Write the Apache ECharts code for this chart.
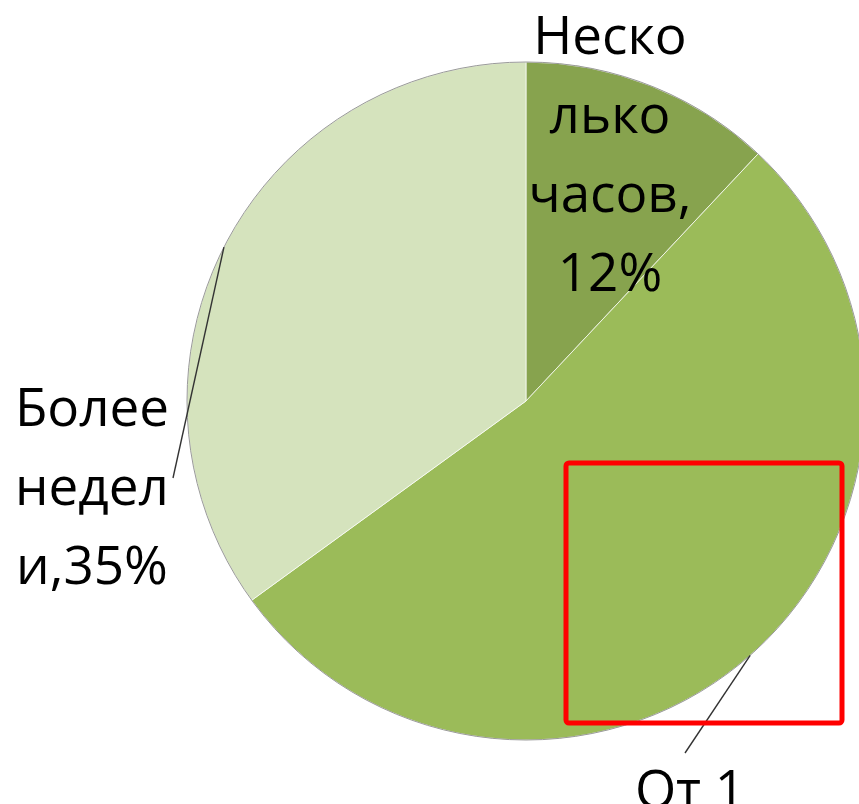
<!DOCTYPE html>
<html>
<head>
<meta charset="utf-8">
<script src="https://cdn.jsdelivr.net/npm/echarts@6/dist/echarts.min.js"></script>
<style>
  html, body { margin: 0; padding: 0; background: #fff; }
  #chart { width: 859px; height: 804px; }
</style>
</head>
<body>
<div id="chart"></div>
<script>
// доли времени
var categories = ['Несколько часов', 'От 1 дня до недели', 'Более недели'];
var labelTexts = ['Неско\nлько\nчасов,\n', 'От 1\nдня до\nнедели,\n', 'Более\nнедел\nи,'];
var shares = [12, 53, 35];
var colors = ['#87a34e', '#9bbb59', '#d5e3bd'];

// где стоят подписи (как в исходнике)
var labelSpots = [
  { x: 610, y: 157, align: 'center', verticalAlign: 'middle', line: null },
  { x: 690, y: 753, align: 'center', verticalAlign: 'top', line: [-5, 0] },
  { x: 92, y: 490, align: 'center', verticalAlign: 'middle', line: [81, -12] }
];

var pieData = categories.map(function (name, i) {
  return { name: name, value: shares[i], itemStyle: { color: colors[i] } };
});

// второй слой: прозрачные секторы, только подписи и выноски поверх
var labelData = categories.map(function (name, i) {
  return { name: name, value: shares[i], labelLine: { show: i !== 0 } };
});

var total = shares.reduce(function (a, b) { return a + b; }, 0);

var chart = echarts.init(document.getElementById('chart'));

var option = {
  backgroundColor: '#ffffff',
  animation: false,
  series: [
    {
      type: 'pie',
      z: 2,
      center: [526, 401],
      radius: 339,
      startAngle: 90,
      clockwise: true,
      silent: true,
      data: pieData,
      itemStyle: {
        borderColor: 'rgba(255,255,255,0.7)',
        borderWidth: 1
      },
      label: { show: false },
      labelLine: { show: false }
    },
    {
      // серый контур круга
      type: 'pie',
      z: 3,
      center: [526, 401],
      radius: 339,
      silent: true,
      data: [{ name: 'all', value: total }],
      itemStyle: { color: 'rgba(0,0,0,0)', borderColor: '#9a9a9a', borderWidth: 1 },
      label: { show: false },
      labelLine: { show: false }
    },
    {
      type: 'pie',
      z: 5,
      center: [526, 401],
      radius: 339,
      startAngle: 90,
      clockwise: true,
      avoidLabelOverlap: false,
      silent: true,
      data: labelData,
      itemStyle: { color: 'rgba(0,0,0,0)', borderWidth: 0 },
      label: {
        show: true,
        position: 'outside',
        width: 220,
        overflow: 'none',
        fontFamily: 'Open Sans',
        fontSize: 53,
        lineHeight: 79,
        color: '#000',
        formatter: function (p) {
          return labelTexts[p.dataIndex] + p.value + '%';
        }
      },
      labelLine: {
        show: true,
        length: 10,
        length2: 0,
        smooth: false,
        lineStyle: { color: '#333333', width: 1.4, opacity: 1 }
      },
      labelLayout: function (params) {
        var s = labelSpots[params.dataIndex];
        var out = { x: s.x, y: s.y, align: s.align, verticalAlign: s.verticalAlign };
        if (s.line && params.labelLinePoints) {
          out.labelLinePoints = [
            params.labelLinePoints[0],
            [s.x + s.line[0], s.y + s.line[1]]
          ];
        }
        return out;
      }
    }
  ],
  graphic: [
    {
      type: 'rect',
      shape: { x: 566, y: 463, width: 276, height: 260, r: 3 },
      style: { fill: null, stroke: '#ff0000', lineWidth: 5 },
      z: 100
    }
  ]
};

chart.setOption(option);
</script>
</body>
</html>
